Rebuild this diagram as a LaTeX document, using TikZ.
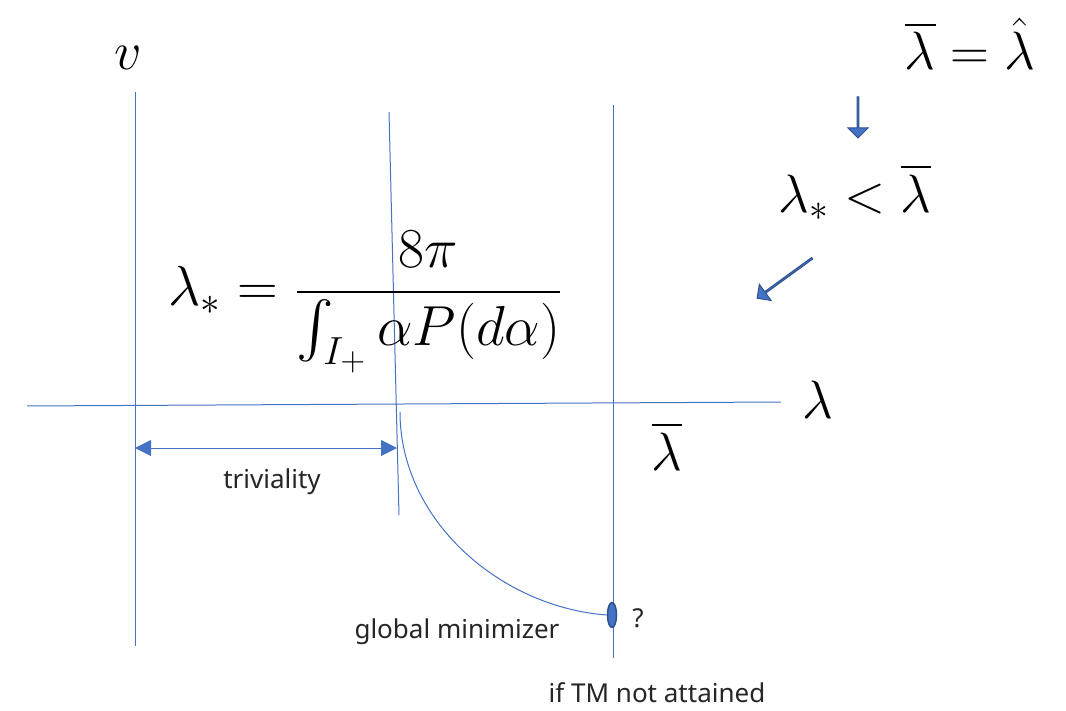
\documentclass[tikz,border=0pt]{standalone}
\usepackage{amsmath}
\usepackage{fontspec}
\setsansfont{Noto Sans}
\usetikzlibrary{arrows.meta,shapes.arrows,shapes.geometric}
\definecolor{lineblue}{HTML}{4472C4}
\definecolor{darkblue}{HTML}{2F528F}
\newcommand{\BigMath}[2][2.6]{\scalebox{#1}{\huge #2}}
\tikzset{
  axis/.style={draw=lineblue, line width=1pt},
  bigmath/.style={inner sep=0pt},
  label/.style={font=\sffamily\fontsize{26}{30}\selectfont, text=black!85, inner sep=0pt},
  blockarrow/.style={single arrow, draw=darkblue, fill=lineblue, line width=1pt,
    single arrow head extend=5pt, minimum width=20pt, inner sep=0pt, single arrow tip angle=90},
}
\begin{document}
\begin{tikzpicture}[x=1pt,y=-1pt]
\useasboundingbox (0,0) rectangle (1066,711);
% lines
\coordinate (L1) at (135,92);
\coordinate (L2) at (135,646);
\coordinate (T1) at (389,112);
\coordinate (T2) at (399,515);
\coordinate (R1) at (613,105);
\coordinate (R2) at (613,658);
\coordinate (H1) at (27,406);
\coordinate (H2) at (781,402);
\draw[axis] (L1) -- (L2);
\draw[axis] (T1) -- (T2);
\draw[axis] (R1) -- (R2);
\draw[axis] (H1) -- (H2);
% labels on axes
\node[bigmath] (v) at (128,58) {\BigMath{$v$}};
\node[bigmath] (lam) at (818,400) {\BigMath{$\lambda$}};
\node[bigmath] (lbar) at (667,446) {\BigMath{$\overline{\lambda}$}};
% top right
\node[bigmath] (eq) at (970,44) {\BigMath{$\overline{\lambda}=\hat{\lambda}$}};
\node[blockarrow, minimum height=41pt, rotate=-90] (a1) at (858,117) {};
\node[bigmath] (ineq) at (855,192) {\BigMath{$\lambda_*<\overline{\lambda}$}};
\node[blockarrow, minimum height=68pt, rotate=216] (a2) at (785,278) {};
% formula
\node[bigmath] (formula) at (366,302) {\BigMath[2.72]{$\lambda_*=\dfrac{8\pi}{\int_{I_+}\alpha P(d\alpha)}$}};
% triviality
\coordinate (D1) at (135,448);
\coordinate (D2) at (397,448);
\draw[lineblue, line width=1pt, {Triangle[length=16pt,width=16pt]}-{Triangle[length=16pt,width=16pt]}] (D1) -- (D2);
\node[label] (triv) at (272,482) {triviality};
% curve
\coordinate (C1) at (400,412);
\node[ellipse, draw=darkblue, fill=lineblue, line width=1.5pt, minimum width=9pt, minimum height=25pt, inner sep=0pt] (min) at (612,615) {};
\draw[lineblue, line width=1pt] (C1) .. controls (400,520) and (500,607) .. (min.west);
\node[label] (q) at (638,618) {?};
\node[label] (gm) at (457,632) {global minimizer};
\node[label] (tm) at (657,693) {if TM not attained};
\end{tikzpicture}
\end{document}
